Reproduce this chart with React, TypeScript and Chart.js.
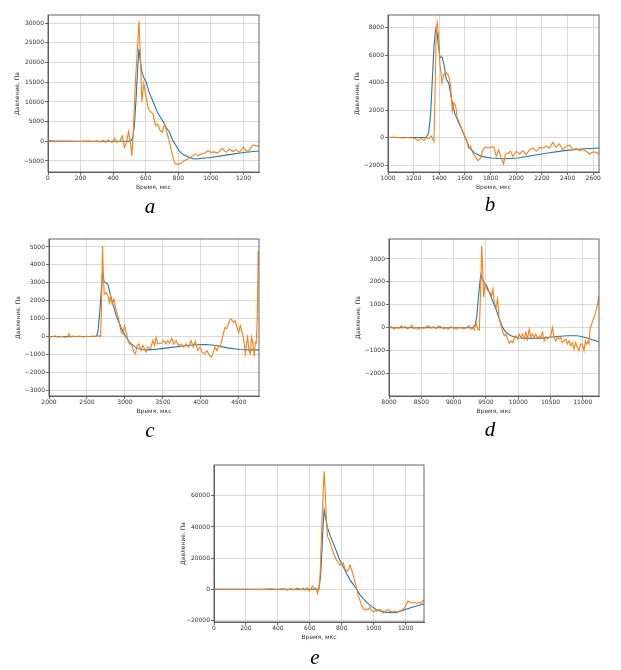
import React, { useEffect, useRef } from "react";
import { Chart, registerables } from "chart.js";
Chart.register(...registerables);

// ---------- Panel a ----------
const aMeasT = [0, 20, 40, 60, 100, 150, 200, 250, 280, 300, 320, 340, 355, 370, 378, 394, 409, 423, 440, 456, 470, 484, 494, 505, 515, 525, 537, 552, 558, 566, 576, 588, 603, 613, 623, 644, 660, 674, 689, 701, 715, 729, 746, 762, 776, 787, 807, 823, 838, 858, 879, 905, 919, 940, 960, 981, 1001, 1021, 1042, 1069, 1093, 1113, 1134, 1154, 1175, 1199, 1216, 1236, 1256, 1277, 1297];
const aMeasP = [100, 180, 80, 20, 60, 0, -60, 40, -120, 150, -200, 250, -300, 400, 0, -250, 750, -250, 0, 1360, -1500, 0, 2550, 0, -3700, 3500, 15500, 25700, 30600, 23100, 10200, 14600, 11200, 8700, 7800, 7000, 4000, 4400, 2700, 2300, 4400, 2300, -250, -3200, -5350, -5800, -5800, -5350, -4900, -4500, -3900, -3200, -3650, -3200, -3060, -2400, -2800, -2700, -3000, -1800, -2800, -1950, -2600, -2100, -2800, -1500, -2500, -2300, -950, -1100, -1300];
const aModelT = [0, 400, 500, 510, 521, 531, 541, 552, 558, 566, 576, 590, 603, 620, 644, 670, 705, 725, 746, 766, 787, 807, 835, 868, 890, 909, 950, 1000, 1100, 1200, 1297];
const aModelP = [0, 0, 50, 200, 1000, 4400, 11200, 19700, 23500, 20500, 17600, 16000, 15000, 12500, 10200, 7500, 5100, 3500, 2300, 200, -1200, -2550, -3500, -4080, -4400, -4500, -4300, -4100, -3450, -2850, -2450];
const aXRange = [0, 1295];
const aYRange = [-7800, 32100];
const aSteps = [200, 5000];

// ---------- Panel b ----------
const bMeasT = [1000, 1040, 1078, 1120, 1156, 1208, 1234, 1260, 1280, 1299, 1317, 1338, 1358, 1366, 1376, 1384, 1395, 1405, 1421, 1436, 1454, 1473, 1488, 1501, 1514, 1527, 1540, 1558, 1576, 1597, 1615, 1628, 1644, 1662, 1680, 1701, 1722, 1740, 1758, 1779, 1805, 1826, 1844, 1862, 1883, 1901, 1914, 1935, 1956, 1974, 2000, 2026, 2052, 2078, 2104, 2130, 2156, 2182, 2208, 2234, 2260, 2285, 2311, 2337, 2363, 2389, 2415, 2441, 2467, 2493, 2519, 2545, 2571, 2597, 2623, 2649];
const bMeasP = [0, 20, 0, -30, 0, -50, -220, -60, -220, 0, -80, 100, -270, 2900, 8030, 8400, 7300, 5340, 4000, 4600, 4730, 4500, 3760, 1930, 2540, 2300, 1440, 1070, 590, 170, -270, -760, -630, -1120, -1370, -1680, -1490, -880, -710, -760, -700, -680, -1370, -880, -1490, -1930, -1240, -1120, -1000, -1370, -1000, -1200, -950, -1240, -880, -760, -1000, -710, -760, -630, -760, -340, -710, -460, -880, -630, -560, -880, -810, -950, -880, -1000, -1200, -1050, -1070, -1240];
const bModelT = [1000, 1280, 1299, 1317, 1332, 1345, 1358, 1371, 1382, 1395, 1405, 1421, 1436, 1454, 1473, 1493, 1519, 1545, 1571, 1602, 1636, 1675, 1727, 1805, 1909, 2013, 2117, 2247, 2376, 2506, 2649];
const bModelP = [0, 0, 20, 340, 1680, 4100, 6560, 7900, 7660, 6560, 5830, 5880, 5340, 4250, 4000, 2900, 1800, 1200, 700, 0, -760, -1120, -1370, -1490, -1540, -1490, -1320, -1120, -950, -830, -760];
const bXRange = [1000, 2645];
const bYRange = [-2510, 8930];
const bSteps = [200, 2000];

// ---------- Panel c ----------
const cMeasT = [2000, 2031, 2075, 2118, 2160, 2206, 2240, 2263, 2285, 2316, 2360, 2403, 2447, 2491, 2535, 2578, 2622, 2653, 2679, 2692, 2705, 2714, 2727, 2753, 2775, 2797, 2810, 2832, 2854, 2885, 2907, 2929, 2951, 2972, 2994, 3016, 3038, 3060, 3091, 3117, 3139, 3161, 3183, 3213, 3235, 3257, 3279, 3301, 3336, 3367, 3389, 3411, 3432, 3454, 3485, 3511, 3542, 3564, 3586, 3616, 3643, 3673, 3704, 3739, 3774, 3805, 3835, 3870, 3901, 3927, 3958, 3989, 4015, 4046, 4081, 4111, 4142, 4164, 4186, 4212, 4234, 4256, 4273, 4295, 4317, 4339, 4361, 4387, 4409, 4431, 4453, 4475, 4497, 4519, 4536, 4558, 4571, 4584, 4602, 4615, 4633, 4650, 4667, 4685, 4703, 4716, 4729, 4742, 4755];
const cMeasP = [0, -20, 40, -40, 10, -40, -30, 150, -40, 30, 0, 30, -20, 10, 0, 30, 10, 50, 0, 1800, 5050, 3660, 2370, 2460, 2280, 1900, 2280, 1810, 2090, 1440, 1165, 700, 240, 150, 610, 240, -220, -410, -500, -870, -960, -500, -410, -780, -500, -680, -870, -590, -680, -220, -500, -40, -410, -370, -370, -220, -410, -220, -370, -90, -410, -220, -500, -410, -590, -410, -590, -220, -590, -260, -780, -590, -870, -960, -780, -1050, -1150, -870, -590, -780, -500, -590, -220, 150, 520, 430, 700, 980, 925, 800, 880, 520, 240, 610, 330, -40, -410, -960, -410, -40, -780, -960, -40, -410, -1110, -320, -370, 1070, 4770];
const cModelT = [2000, 2600, 2622, 2644, 2666, 2688, 2705, 2723, 2745, 2775, 2806, 2841, 2885, 2929, 2972, 3016, 3073, 3135, 3213, 3301, 3432, 3564, 3739, 3914, 4068, 4199, 4352, 4505, 4659, 4768];
const cModelP = [0, 0, 0, 240, 1260, 2550, 3570, 3100, 3000, 2920, 2370, 1810, 1165, 700, 280, -40, -370, -590, -720, -740, -700, -630, -540, -460, -440, -500, -630, -720, -740, -740];
const cXRange = [2000, 4765];
const cYRange = [-3316, 5444];
const cSteps = [500, 1000];

// ---------- Panel d ----------
const dMeasT = [8000, 8036, 8078, 8114, 8155, 8191, 8216, 8252, 8283, 8319, 8355, 8386, 8422, 8458, 8499, 8540, 8576, 8612, 8653, 8689, 8730, 8766, 8807, 8849, 8885, 8920, 8962, 8998, 9039, 9075, 9116, 9157, 9198, 9239, 9270, 9296, 9321, 9347, 9373, 9398, 9419, 9435, 9450, 9465, 9486, 9511, 9537, 9563, 9589, 9609, 9630, 9656, 9681, 9702, 9722, 9743, 9763, 9784, 9810, 9835, 9861, 9887, 9913, 9938, 9964, 9990, 10015, 10041, 10067, 10093, 10118, 10144, 10170, 10195, 10221, 10247, 10272, 10298, 10324, 10349, 10375, 10401, 10427, 10452, 10478, 10504, 10529, 10555, 10581, 10606, 10632, 10658, 10684, 10709, 10735, 10761, 10787, 10812, 10838, 10863, 10889, 10915, 10941, 10966, 10992, 11018, 11038, 11059, 11079, 11095, 11110, 11131, 11151, 11172, 11198, 11223, 11249];
const dMeasP = [-15, 45, -45, 15, -30, 90, 15, 45, -45, 15, 115, -45, 15, -70, 15, -30, 45, 90, -15, 45, -30, 75, 45, -60, 15, -45, 45, -15, -70, 0, 15, -45, 15, 90, -60, -15, -100, 230, -60, -100, 1750, 3570, 2480, 1320, 1900, 1680, 1600, 1540, 1390, 1680, 1100, 885, 1250, 450, 230, 15, -200, -350, -275, -490, -680, -570, -640, -490, -350, -490, -275, -420, -275, -490, -200, -490, -60, -420, -275, -420, -275, -465, -350, -420, -200, -570, -390, -490, -420, -350, 15, -420, -570, -390, -490, -420, -640, -570, -490, -710, -570, -780, -640, -930, -640, -860, -1000, -710, -710, -1000, -570, -710, -600, -710, -60, 90, 300, 450, 670, 960, 1390];
const dModelT = [8000, 9000, 9296, 9332, 9357, 9383, 9409, 9424, 9445, 9476, 9511, 9553, 9604, 9656, 9707, 9758, 9810, 9887, 9990, 10144, 10349, 10555, 10761, 10915, 11043, 11146, 11249];
const dModelP = [0, 0, 0, 130, 450, 1320, 2040, 2330, 2120, 1930, 1830, 1540, 1170, 810, 380, 15, -200, -350, -435, -460, -450, -390, -350, -350, -420, -520, -610];
const dXRange = [8000, 11250];
const dYRange = [-2974, 3870];
const dSteps = [500, 1000];

// ---------- Panel e ----------
const eMeasT = [0, 100, 200, 300, 350, 400, 430, 460, 480, 500, 520, 538, 548, 559, 569, 584, 596, 607, 617, 628, 638, 649, 657, 665, 674, 684, 690, 697, 703, 711, 722, 732, 742, 753, 768, 778, 788, 799, 809, 820, 830, 841, 851, 861, 872, 882, 893, 903, 914, 924, 935, 945, 955, 966, 976, 987, 997, 1008, 1018, 1035, 1049, 1060, 1070, 1081, 1091, 1101, 1118, 1133, 1147, 1164, 1175, 1189, 1202, 1214, 1227, 1241, 1254, 1268, 1283, 1296, 1310, 1323];
const eMeasP = [0, 0, 0, -200, 300, -300, 400, -500, 500, -600, 700, 200, -300, 860, -600, 1075, -1075, 400, 1935, 200, 1000, -2800, 500, 10100, 38000, 63800, 75700, 61700, 46700, 33800, 31600, 28400, 25200, 21900, 18700, 17000, 15500, 16600, 17000, 13300, 11200, 12700, 15500, 12700, 9000, 4700, 430, -3900, -7100, -10300, -12500, -13500, -12500, -13100, -11400, -13500, -14600, -13500, -14000, -13100, -13500, -15300, -14000, -13500, -12900, -14200, -14600, -14200, -14600, -14000, -13500, -12500, -10300, -7500, -8200, -8800, -8200, -9200, -8200, -9200, -7100, -6600];
const eModelT = [0, 600, 650, 657, 667, 676, 684, 690, 699, 709, 726, 747, 768, 788, 809, 830, 851, 872, 893, 914, 935, 955, 987, 1018, 1049, 1081, 1112, 1143, 1185, 1227, 1268, 1323];
const eModelP = [0, 0, 0, 200, 8000, 25000, 42400, 51000, 45600, 40200, 34800, 29500, 24100, 18700, 14400, 10100, 6200, 3200, 0, -3400, -6000, -8200, -11000, -13100, -14200, -14800, -15000, -14800, -13500, -12000, -10750, -9250];
const eXRange = [0, 1315];
const eYRange = [-21000, 79800];
const eSteps = [200, 20000];

Chart.defaults.font.family = "'DejaVu Sans', sans-serif";
Chart.defaults.font.size = 6;
Chart.defaults.color = "#333";

const framePlugin = {
  id: "frame",
  afterDraw(chart: any) {
    const { ctx, chartArea } = chart;
    const { left, top, right, bottom } = chartArea;
    ctx.save();
    ctx.strokeStyle = "#555";
    ctx.lineWidth = 0.9;
    ctx.strokeRect(left, top, right - left, bottom - top);
    ctx.restore();
  },
};

const fmt = (v: any) => {
  const n = Number(v);
  return n < 0 ? "\u2212" + Math.abs(n) : String(n);
};

const pts = (t: number[], p: number[]) => t.map((x, i) => ({ x, y: p[i] }));

const makeTicks = (lo: number, hi: number, step: number) => (s: any) => {
  const out: { value: number }[] = [];
  for (let v = Math.ceil(lo / step) * step; v <= hi + 1e-9; v += step) out.push({ value: v });
  s.ticks = out;
};

type PanelProps = {
  L: number; T: number; W: number; H: number;
  xr: number[]; yr: number[]; steps: number[];
  measT: number[]; measP: number[]; modelT: number[]; modelP: number[];
  letter: string; lx: number; ly: number;
};

const YW = 40, PT = 6, PR = 14, XH = 24;

function Panel(p: PanelProps) {
  const ref = useRef<HTMLCanvasElement>(null);
  useEffect(() => {
    if (!ref.current) return;
    const chart = new Chart(ref.current, {
      type: "line",
      data: {
        datasets: [
          { data: pts(p.measT, p.measP), borderColor: "#ff7f0e", borderWidth: 1.1, pointRadius: 0, tension: 0 },
          { data: pts(p.modelT, p.modelP), borderColor: "#1f77b4", borderWidth: 1.1, pointRadius: 0, tension: 0 },
        ],
      },
      options: {
        animation: false,
        responsive: false,
        events: [],
        layout: { padding: { left: 0, top: PT, right: PR, bottom: 0 } },
        plugins: { legend: { display: false }, tooltip: { enabled: false } },
        scales: {
          x: {
            type: "linear",
            min: p.xr[0], max: p.xr[1],
            afterBuildTicks: makeTicks(p.xr[0], p.xr[1], p.steps[0]),
            ticks: { callback: fmt, maxRotation: 0, minRotation: 0, autoSkip: false, padding: 0, color: "#333" },
            grid: { color: "#cfcfcf", lineWidth: 0.8, tickLength: 3, tickColor: "#444", drawTicks: true },
            border: { display: true, color: "#555", width: 0.9 },
            title: { display: true, text: "Время, мкс", padding: { top: 0, bottom: 5.4 }, color: "#333" },
            afterFit: (s: any) => { s.height = XH; s.paddingLeft = 0; s.paddingRight = 0; },
          },
          y: {
            type: "linear",
            min: p.yr[0], max: p.yr[1],
            afterBuildTicks: makeTicks(p.yr[0], p.yr[1], p.steps[1]),
            ticks: { callback: fmt, autoSkip: false, padding: 1, color: "#333" },
            grid: { color: "#cfcfcf", lineWidth: 0.8, tickLength: 3, tickColor: "#444", drawTicks: true },
            border: { display: true, color: "#555", width: 0.9 },
            title: { display: true, text: "Давление, Па", padding: { top: 5.4, bottom: 0 }, color: "#333" },
            afterFit: (s: any) => { s.width = YW; s.paddingTop = 0; s.paddingBottom = 0; },
          },
        },
      } as any,
      plugins: [framePlugin],
    });
    return () => chart.destroy();
  }, []);
  const cw = p.W + YW + PR;
  const ch = p.H + PT + XH;
  return (
    <>
      <canvas
        ref={ref}
        width={cw}
        height={ch}
        style={{ position: "absolute", left: p.L - YW, top: p.T - PT, width: cw, height: ch }}
      />
      <div
        style={{
          position: "absolute", left: p.lx, top: p.ly, transform: "translate(-50%, -50%)",
          fontFamily: "'Liberation Serif', 'Times New Roman', serif", fontStyle: "italic", fontSize: 21, color: "#000", lineHeight: 1,
        }}
      >
        {p.letter}
      </div>
    </>
  );
}

export default function App() {
  return (
    <div style={{ position: "absolute", left: 0, top: 0, width: 621, height: 670, background: "#fff", overflow: "hidden" }}>
      <Panel L={48} T={15} W={211} H={157} xr={aXRange} yr={aYRange} steps={aSteps}
        measT={aMeasT} measP={aMeasP} modelT={aModelT} modelP={aModelP} letter="a" lx={150} ly={206} />
      <Panel L={388} T={15} W={211} H={157} xr={bXRange} yr={bYRange} steps={bSteps}
        measT={bMeasT} measP={bMeasP} modelT={bModelT} modelP={bModelP} letter="b" lx={490} ly={204} />
      <Panel L={49} T={239} W={210} H={157} xr={cXRange} yr={cYRange} steps={cSteps}
        measT={cMeasT} measP={cMeasP} modelT={cModelT} modelP={cModelP} letter="c" lx={150} ly={430} />
      <Panel L={389} T={239} W={210} H={157} xr={dXRange} yr={dYRange} steps={dSteps}
        measT={dMeasT} measP={dMeasP} modelT={dModelT} modelP={dModelP} letter="d" lx={490} ly={429} />
      <Panel L={214} T={465} W={210} H={157} xr={eXRange} yr={eYRange} steps={eSteps}
        measT={eMeasT} measP={eMeasP} modelT={eModelT} modelP={eModelP} letter="e" lx={315} ly={657} />
    </div>
  );
}
